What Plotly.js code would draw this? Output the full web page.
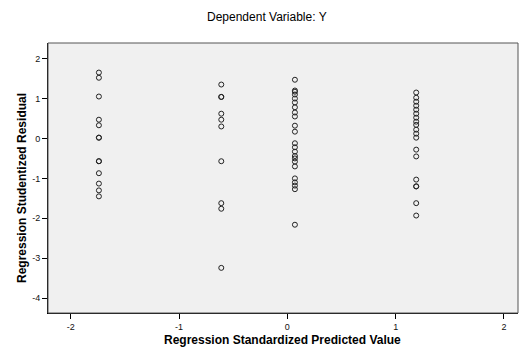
<!DOCTYPE html>
<html>
<head>
<meta charset="utf-8">
<script src="https://cdn.plot.ly/plotly-3.0.1.min.js"></script>
<style>html,body{margin:0;padding:0;background:#fff;}#chart{width:519px;height:350px;}</style>
</head>
<body>
<div id="chart"></div>
<script>
// Predicted value (x) per column and residuals (y)
const predictedLevels = [-1.74, -0.61, 0.07, 1.19];
const residualsGroup1 = [1.65, 1.52, 1.05, 0.47, 0.33, 0.02, 0.02, -0.57, -0.57, -0.87, -1.13, -1.30, -1.45];
const residualsGroup2 = [1.35, 1.04, 1.04, 0.62, 0.47, 0.30, -0.57, -1.62, -1.76, -3.24];
const residualsGroup3 = [1.47, 1.20, 1.17, 1.10, 1.00, 0.90, 0.78, 0.65, 0.55, 0.32, 0.17, -0.12, -0.22, -0.33, -0.44, -0.50, -0.58, -0.70, -1.00, -1.10, -1.18, -1.27, -2.16];
const residualsGroup4 = [1.15, 1.02, 0.92, 0.82, 0.72, 0.62, 0.52, 0.42, 0.34, 0.22, 0.12, 0.02, -0.28, -0.45, -1.03, -1.20, -1.20, -1.62, -1.93];
const xTicks = [-2, -1, 0, 1, 2];
const yTicks = [2, 1, 0, -1, -2, -3, -4];

const groups = [residualsGroup1, residualsGroup2, residualsGroup3, residualsGroup4];
const xs = [], ys = [];
groups.forEach((g, i) => g.forEach(v => { xs.push(predictedLevels[i]); ys.push(v); }));

const trace = {
  x: xs, y: ys, type: 'scatter', mode: 'markers',
  marker: {symbol: 'circle-open', size: 5, color: '#222', line: {width: 1, color: '#222'}},
  hoverinfo: 'none'
};

const font = 'Liberation Sans, Arial, sans-serif';
const layout = {
  width: 519, height: 350,
  margin: {l: 48, r: 1, t: 43, b: 37},
  paper_bgcolor: '#ffffff',
  plot_bgcolor: '#f0f0f0',
  showlegend: false,
  font: {family: font, color: '#000', size: 9},
  xaxis: {
    range: [-2.21, 2.13], tickvals: xTicks, ticktext: xTicks.map(String),
    showgrid: false, zeroline: false, showline: true, linecolor: '#000', linewidth: 1,
    ticks: 'outside', ticklen: 5, tickcolor: '#000', tickfont: {size: 9, color: '#111'}
  },
  yaxis: {
    range: [-4.37, 2.39], tickvals: yTicks, ticktext: yTicks.map(String),
    showgrid: false, zeroline: false, showline: true, linecolor: '#000', linewidth: 1,
    ticks: 'outside', ticklen: 5, tickcolor: '#000', tickfont: {size: 9, color: '#111'}
  },
  shapes: [{type: 'rect', xref: 'paper', yref: 'paper', x0: 0, x1: 1, y0: 0, y1: 1,
            line: {color: '#555', width: 1}, fillcolor: 'rgba(0,0,0,0)', layer: 'above'}],
  annotations: [
    {text: 'Dependent Variable: Y', xref: 'paper', yref: 'paper', x: 0.466, y: 1, yshift: 26,
     xanchor: 'center', yanchor: 'middle', showarrow: false, font: {family: font, size: 12, color: '#000'}},
    {text: '<b>Regression Standardized Predicted Value</b>', xref: 'paper', yref: 'paper', x: 0.498, y: 0, yshift: -27,
     xanchor: 'center', yanchor: 'middle', showarrow: false, font: {family: font, size: 12, color: '#000'}},
    {text: '<b>Regression Studentized Residual</b>', xref: 'paper', yref: 'paper', x: 0, xshift: -26, y: 0.463,
     xanchor: 'center', yanchor: 'middle', textangle: -90, showarrow: false, font: {family: font, size: 12, color: '#000'}}
  ]
};

Plotly.newPlot('chart', [trace], layout, {staticPlot: true, displayModeBar: false});
</script>
</body>
</html>
